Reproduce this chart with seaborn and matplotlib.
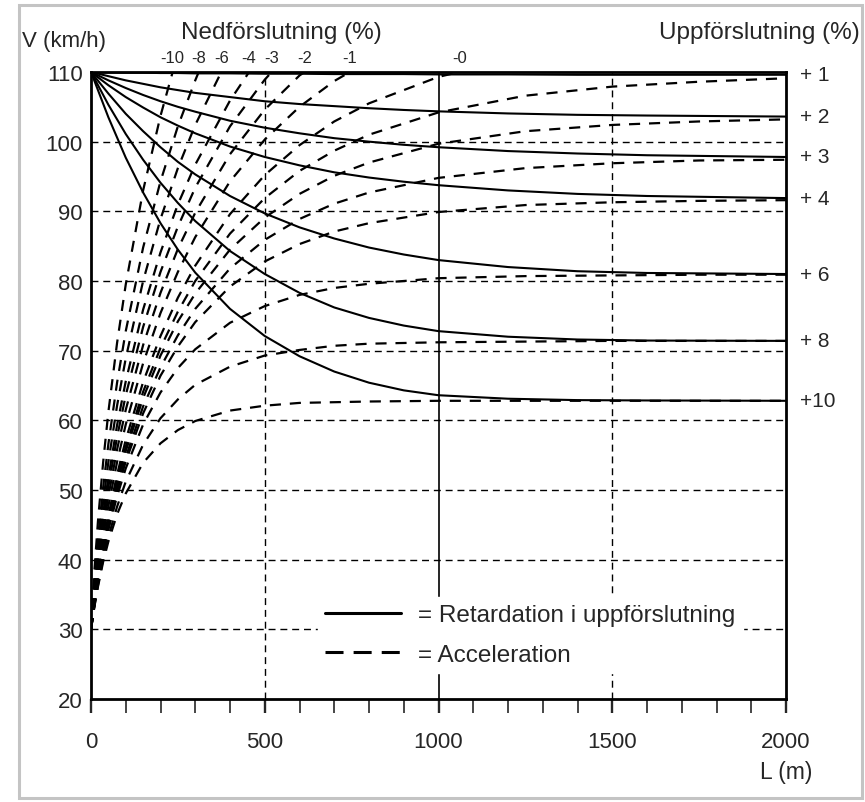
import numpy as np
import pandas as pd
import seaborn as sns
import matplotlib.pyplot as plt
from matplotlib.lines import Line2D
from matplotlib.patches import Rectangle
from matplotlib.ticker import MultipleLocator

sns.set_style('white')
plt.rcParams['font.family'] = ['Liberation Sans', 'DejaVu Sans']

############ DATA

# retardation on upgrades, all starting at 110 km/h
ret_x = [0, 50, 100, 150, 200, 250, 300, 400, 500, 600, 700, 800, 900, 1000, 1200, 1400, 1600, 2000]
ret_p1 = [110, 109.95, 109.9, 109.9, 109.85, 109.85, 109.8, 109.8, 109.75, 109.75, 109.7, 109.7, 109.7, 109.65, 109.65, 109.6, 109.6, 109.6]
ret_p2 = [110, 109.4, 108.8, 108.3, 107.8, 107.4, 107.0, 106.4, 105.8, 105.4, 105.1, 104.8, 104.55, 104.35, 104.05, 103.85, 103.75, 103.6]
ret_p3 = [110, 108.8, 107.7, 106.7, 105.8, 105.0, 104.3, 103.0, 102.0, 101.2, 100.5, 100.0, 99.55, 99.2, 98.65, 98.3, 98.05, 97.8]
ret_p4 = [110, 108.1, 106.4, 104.9, 103.5, 102.3, 101.2, 99.3, 97.8, 96.6, 95.6, 94.85, 94.25, 93.75, 93.0, 92.5, 92.2, 91.9]
ret_p6 = [110, 106.9, 104.0, 101.5, 99.2, 97.1, 95.3, 92.2, 89.7, 87.7, 86.1, 84.8, 83.8, 83.0, 82.0, 81.4, 81.15, 81.0]
ret_p8 = [110, 105.3, 101.1, 97.4, 94.1, 91.2, 88.6, 84.3, 81.0, 78.3, 76.2, 74.7, 73.6, 72.8, 72.0, 71.6, 71.45, 71.4]
ret_p10 = [110, 103.5, 97.7, 92.7, 88.3, 84.5, 81.2, 76.0, 72.1, 69.2, 67.0, 65.4, 64.3, 63.6, 63.1, 62.9, 62.85, 62.8]
ret_names = ['+ 1', '+ 2', '+ 3', '+ 4', '+ 6', '+ 8', '+10']

# acceleration from 30 km/h, upgrades run the full 2000 m
acc_x = [0, 10, 20, 35, 50, 75, 100, 150, 200, 250, 300, 400, 500, 600, 700, 800, 1000, 1250, 1500, 1750, 2000]
acc_p10 = [30, 33.3, 36.1, 39.7, 42.6, 46.5, 49.5, 53.9, 56.7, 58.6, 59.9, 61.4, 62.1, 62.5, 62.6, 62.7, 62.8, 62.8, 62.8, 62.8, 62.8]
acc_p8 = [30, 33.4, 36.3, 40.1, 43.3, 47.6, 51.2, 56.5, 60.3, 63.0, 65.1, 67.7, 69.3, 70.1, 70.7, 71.0, 71.2, 71.3, 71.4, 71.4, 71.4]
acc_p6 = [30, 33.6, 36.8, 40.8, 44.3, 49.1, 53.1, 59.4, 64.0, 67.5, 70.2, 74.0, 76.4, 78.0, 79.0, 79.6, 80.4, 80.7, 80.8, 80.9, 80.9]
acc_p4 = [30, 33.6, 36.9, 41.0, 44.6, 49.8, 54.1, 61.0, 66.4, 70.6, 74.1, 79.2, 82.8, 85.3, 87.1, 88.3, 89.9, 90.9, 91.3, 91.5, 91.6]
acc_p3 = [30, 33.7, 37.0, 41.2, 44.9, 50.2, 54.7, 62.0, 67.6, 72.2, 76.0, 81.8, 85.9, 88.9, 91.1, 92.7, 94.8, 96.2, 96.9, 97.3, 97.4]
acc_p2 = [30, 33.8, 37.2, 41.6, 45.5, 51.0, 55.6, 63.2, 69.3, 74.2, 78.2, 84.5, 89.1, 92.5, 95.1, 97.0, 99.7, 101.5, 102.4, 102.9, 103.2]
acc_p1 = [30, 33.9, 37.3, 41.8, 45.7, 51.4, 56.2, 64.1, 70.4, 75.6, 80.0, 86.8, 91.9, 95.8, 98.7, 101.0, 104.2, 106.6, 107.9, 108.6, 109.1]

# downgrades stop where they hit 110 km/h
acc_m0_x = [0, 10, 20, 35, 50, 75, 100, 150, 200, 250, 300, 400, 500, 600, 700, 800, 1000, 1060]
acc_m0 = [30, 34.1, 37.6, 42.3, 46.3, 52.2, 57.2, 65.5, 72.1, 77.6, 82.2, 89.6, 95.2, 99.5, 102.9, 105.5, 109.3, 110]
acc_m1_x = [0, 10, 20, 35, 50, 75, 100, 150, 200, 250, 300, 400, 500, 600, 700, 745]
acc_m1 = [30, 34.5, 38.3, 43.4, 47.7, 54.0, 59.4, 68.2, 75.4, 81.3, 86.3, 94.3, 100.3, 105.0, 108.7, 110]
acc_m2_x = [0, 10, 20, 35, 50, 75, 100, 150, 200, 250, 300, 400, 500, 600, 615]
acc_m2 = [30, 34.9, 39.0, 44.4, 49.1, 55.8, 61.5, 70.8, 78.3, 84.6, 89.8, 98.2, 104.6, 109.5, 110]
acc_m3_x = [0, 10, 20, 35, 50, 75, 100, 150, 200, 250, 300, 400, 500, 520]
acc_m3 = [30, 35.3, 39.7, 45.5, 50.5, 57.6, 63.6, 73.4, 81.3, 87.8, 93.4, 102.2, 108.9, 110]
acc_m4_x = [0, 10, 20, 35, 50, 75, 100, 150, 200, 250, 300, 400, 455]
acc_m4 = [30, 35.7, 40.4, 46.6, 51.8, 59.3, 65.6, 75.9, 84.1, 91.0, 96.7, 105.9, 110]
acc_m6_x = [0, 10, 20, 35, 50, 75, 100, 150, 200, 250, 300, 375]
acc_m6 = [30, 36.3, 41.6, 48.3, 54.0, 62.1, 68.9, 80.0, 88.9, 96.2, 102.4, 110]
acc_m8_x = [0, 10, 20, 35, 50, 75, 100, 150, 200, 250, 300, 310]
acc_m8 = [30, 37.1, 43.0, 50.4, 56.6, 65.4, 72.8, 84.8, 94.3, 102.2, 108.8, 110]
acc_m10_x = [0, 10, 20, 35, 50, 75, 100, 150, 200, 235]
acc_m10 = [30, 38.6, 45.5, 54.0, 61.2, 71.1, 79.5, 93.0, 103.7, 110]
down_names = ['-10', '-8', '-6', '-4', '-3', '-2', '-1', '-0']

############ LONG TABLES

ret_curves = [ret_p1, ret_p2, ret_p3, ret_p4, ret_p6, ret_p8, ret_p10]
ret_df = pd.concat([pd.DataFrame({'curve': n, 'L': ret_x, 'V': v}) for n, v in zip(ret_names, ret_curves)])

up_curves = [acc_p1, acc_p2, acc_p3, acc_p4, acc_p6, acc_p8, acc_p10]
down_curves = [(acc_m10_x, acc_m10), (acc_m8_x, acc_m8), (acc_m6_x, acc_m6), (acc_m4_x, acc_m4),
               (acc_m3_x, acc_m3), (acc_m2_x, acc_m2), (acc_m1_x, acc_m1), (acc_m0_x, acc_m0)]
acc_parts = [pd.DataFrame({'curve': 'up' + n, 'L': acc_x, 'V': v}) for n, v in zip(ret_names, up_curves)]
acc_parts += [pd.DataFrame({'curve': 'down' + n, 'L': xx, 'V': v}) for n, (xx, v) in zip(down_names, down_curves)]
acc_df = pd.concat(acc_parts)

############ PLOT

fig = plt.figure(figsize=(8.65, 8.03), dpi=100)
ax = fig.add_axes([0.1052, 0.1283, 0.8035, 0.7808])

for yv in range(30, 110, 10):
    ax.axhline(yv, color='black', lw=1.0, linestyle=(0, (5, 3.5)), zorder=1)
for xv in [500, 1500]:
    ax.axvline(xv, color='black', lw=1.0, linestyle=(0, (5, 3.5)), zorder=1)
ax.axvline(1000, color='black', lw=1.2, zorder=1)

sns.lineplot(data=ret_df, x='L', y='V', units='curve', estimator=None, sort=False,
             color='black', lw=1.5, ax=ax, legend=False)
sns.lineplot(data=acc_df, x='L', y='V', units='curve', estimator=None, sort=False,
             color='black', lw=1.6, linestyle=(0, (5, 4)), ax=ax, legend=False)

ax.set_xlim(0, 2000)
ax.set_ylim(20, 110)
ax.set_xticks([0, 500, 1000, 1500, 2000])
ax.xaxis.set_minor_locator(MultipleLocator(100))
ax.set_yticks(range(20, 111, 10))
ax.tick_params(axis='x', which='both', direction='out', length=10, width=1.2, labelsize=16, pad=13, bottom=True)
ax.tick_params(axis='x', which='major', width=1.7)
ax.tick_params(axis='y', length=0, labelsize=16, pad=6)
ax.set_xlabel('')
ax.set_ylabel('')
for s in ax.spines.values():
    s.set_linewidth(2.0)
    s.set_color('black')
    s.set_zorder(5)

# grade labels at the curve ends
tr_top = ax.get_xaxis_transform()
for n, (xx, v) in zip(down_names, down_curves):
    ax.text(xx[-1], 1.023, n, transform=tr_top, ha='center', va='center', fontsize=12)
tr_right = ax.get_yaxis_transform()
for n, v in zip(ret_names, ret_curves):
    ax.text(1.02, v[-1], n, transform=tr_right, ha='left', va='center', fontsize=15)

fig.text(22 / 865, 1 - 41 / 803, 'V (km/h)', ha='left', va='center', fontsize=16)
fig.text(281 / 865, 1 - 33 / 803, 'Nedförslutning (%)', ha='center', va='center', fontsize=17.5)
fig.text(860 / 865, 1 - 33 / 803, 'Uppförslutning (%)', ha='right', va='center', fontsize=17.5)
fig.text(786 / 865, 1 - 773 / 803, 'L (m)', ha='center', va='center', fontsize=16.5)

handles = [Line2D([], [], color='black', lw=2.2),
           Line2D([], [], color='black', lw=2.2, linestyle=(0, (5.9, 3.3)))]
leg = ax.legend(handles, ['= Retardation i uppförslutning', '= Acceleration'],
                loc='upper left', bbox_to_anchor=(0.3266, 0.1626), frameon=True, fancybox=False,
                edgecolor='white', facecolor='white', framealpha=1, fontsize=17.5,
                handlelength=3.1, handletextpad=0.72, borderpad=0.3, labelspacing=0.72, borderaxespad=0)
leg.set_zorder(6)

fig.add_artist(Rectangle((19 / 865, 1 - 799 / 803), (862 - 19) / 865, (799 - 6) / 803,
                         transform=fig.transFigure, fill=False, edgecolor='#c4c4c4', lw=2.2))

fig.savefig('out.png', dpi=100)
